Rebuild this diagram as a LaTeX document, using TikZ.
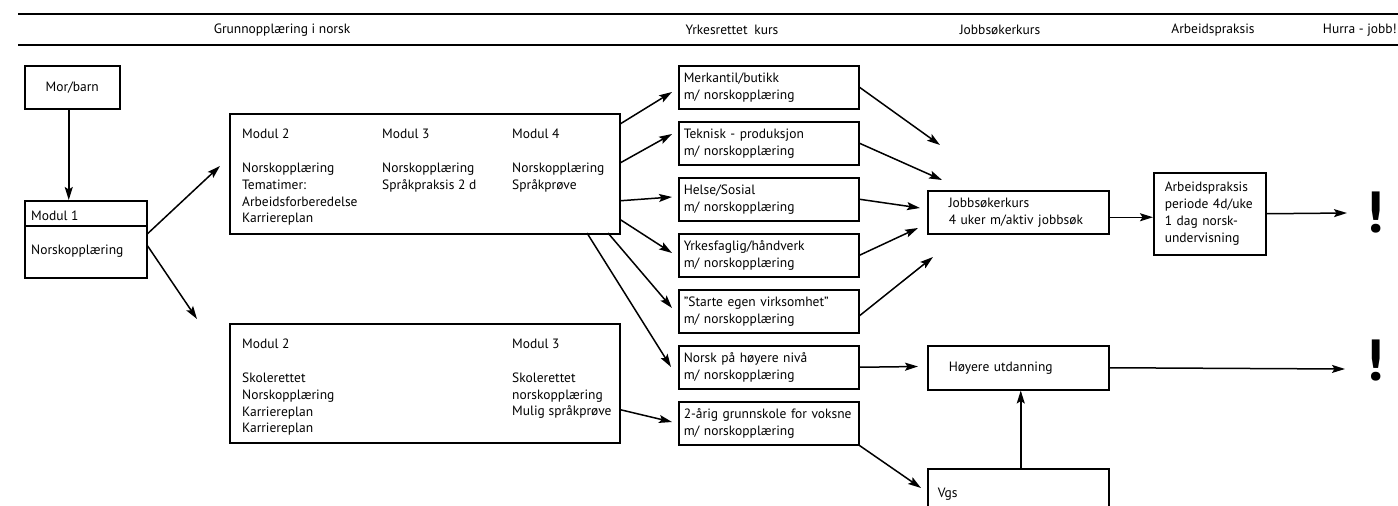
\documentclass[tikz,border=0pt]{standalone}
\usepackage{fontspec}
\setmainfont{PT Sans}
\usetikzlibrary{arrows.meta}
\begin{document}
\begin{tikzpicture}[x=1pt,y=-1pt,
  box/.style={draw, line width=1.5pt, inner sep=0pt, anchor=north west, font=\fontsize{13.5}{17}\selectfont},
  rbox/.style={box, minimum width=180, minimum height=43, text width=170, align=left},
  txt/.style={inner sep=0pt, anchor=north west, align=left, font=\fontsize{13.5}{16.8}\selectfont},
  head/.style={inner sep=0pt, font=\fontsize{13.5}{15}\selectfont},
  arr/.style={line width=1.5pt, -{Stealth[length=13pt,width=8pt,inset=2.5pt]}},
  bang/.style={inner sep=0pt, font=\fontsize{58}{60}\selectfont\bfseries}]
\useasboundingbox (0,0) rectangle (1398,506);
\clip (0,0) rectangle (1398,506);
% header
\coordinate (hl1) at (18,14); \coordinate (hr1) at (1398,14);
\coordinate (hl2) at (18,45); \coordinate (hr2) at (1398,45);
\draw[line width=1.8pt] (hl1) -- (hr1);
\draw[line width=1.8pt] (hl2) -- (hr2);
\node[head] (h1) at (282,30) {Grunnopplæring i norsk};
\node[head] (h2) at (732,30) {Yrkesrettet\enspace kurs};
\node[head] (h3) at (1000,30) {Jobbsøkerkurs};
\node[head] (h4) at (1213,30) {Arbeidspraksis};
\node[head, anchor=east] (h5) at (1397,30) {Hurra - jobb!};
% left
\node[box, minimum width=95, minimum height=43] (mor) at (24,65) {Mor/barn};
\node[box, minimum width=122, minimum height=77] (m1) at (24,200) {};
\draw[line width=1.5pt] ([yshift=-26pt]m1.north west) -- ([yshift=-26pt]m1.north east);
\node[txt] (m1a) at (31,211) {Modul 1};
\node[txt] (m1b) at (31,245) {Norskopplæring};
% big box A
\node[box, minimum width=390, minimum height=120] (A) at (229,113) {};
\node[txt] (A1) at (242,129) {Modul 2\\[16.8pt]Norskopplæring\\Tematimer:\\Arbeidsforberedelse\\Karriereplan};
\node[txt] (A2) at (382,129) {Modul 3\\[16.8pt]Norskopplæring\\Språkpraksis 2 d};
\node[txt] (A3) at (512,129) {Modul 4\\[16.8pt]Norskopplæring\\Språkprøve};
% big box B
\node[box, minimum width=390, minimum height=119] (B) at (229,323) {};
\node[txt] (B1) at (242,339) {Modul 2\\[16.8pt]Skolerettet\\Norskopplæring\\Karriereplan\\Karriereplan};
\node[txt] (B2) at (512,339) {Modul 3\\[16.8pt]Skolerettet\\norskopplæring\\Mulig språkprøve};
% right column
\node[rbox] (merk) at (678,65) {Merkantil/butikk\\m/ norskopplæring};
\node[rbox] (tek) at (678,121) {Teknisk - produksjon\\m/ norskopplæring};
\node[rbox] (hel) at (678,177) {Helse/Sosial\\m/ norskopplæring};
\node[rbox] (yrk) at (678,233) {Yrkesfaglig/håndverk\\m/ norskopplæring};
\node[rbox] (sta) at (678,289) {"Starte egen virksomhet"\\m/ norskopplæring};
\node[rbox] (nor) at (678,345) {Norsk på høyere nivå\\m/ norskopplæring};
\node[rbox] (gru) at (678,401) {2-årig grunnskole for voksne\\m/ norskopplæring};
% further right
\node[box, minimum width=181, minimum height=43, text width=139, align=left] (job) at (927,190) {Jobbsøkerkurs\\4 uker m/aktiv jobbsøk};
\node[box, minimum width=112, minimum height=82, text width=90, align=left] (arb) at (1153,172) {Arbeidspraksis\\periode 4d/uke\\1 dag norsk-\\undervisning};
\node[box, minimum width=181, minimum height=44, text width=139, align=left] (hoy) at (927,345) {Høyere utdanning};
\node[box, minimum width=181, minimum height=50, text width=161, align=left] (vgs) at (927,468) {Vgs};
\node[bang] (b1) at (1375,213) {!};
\node[bang] (b2) at (1375,361) {!};
% arrow tips
\coordinate (t1) at (220,166);
\coordinate (t2) at (197,319);
\coordinate (tm) at (672,92);
\coordinate (tt) at (672,134);
\coordinate (th) at (672,197);
\coordinate (ty) at (672,253);
\coordinate (ts) at (672,308);
\coordinate (tn) at (671,367);
\coordinate (tg) at (672,422);
\coordinate (tv) at (921,488);
\coordinate (j1) at (940,145);
\coordinate (j2) at (942,180);
\coordinate (j3) at (920,208);
\coordinate (j4) at (918,228);
\coordinate (j5) at (933,257);
\coordinate (th2) at (918,366.5);
\coordinate (e1) at (1347,213);
\coordinate (e2) at (1345,369);
\coordinate (as) at (587,233);
\coordinate (bs) at (608,233);
% arrows
\draw[arr] ([xshift=-3.5pt]mor.south) -- ([xshift=-3.5pt]mor.south |- m1.north);
\draw[arr] ([yshift=5.5pt]m1.east) -- (t1);
\draw[arr] ([yshift=-6.5pt]m1.east) -- (t2);
\draw[arr] ([yshift=50pt]A.east) -- (tm);
\draw[arr] ([yshift=11pt]A.east) -- (tt);
\draw[arr] ([yshift=-27pt]A.east) -- (th);
\draw[arr] ([yshift=-46pt]A.east) -- (ty);
\draw[arr] (bs) -- (ts);
\draw[arr] (as) -- (tn);
\draw[arr] ([yshift=-26.5pt]B.east) -- (tg);
\draw[arr] (gru.south east) -- (tv);
\draw[arr] (merk.east) -- (j1);
\draw[arr] (tek.east) -- (j2);
\draw[arr] (hel.east) -- (j3);
\draw[arr] (yrk.east) -- (j4);
\draw[arr] ([yshift=-4.5pt]sta.east) -- (j5);
\draw[arr] (nor.east) -- (th2);
\draw[arr] ([yshift=-5pt]job.east) -- ([yshift=-5pt]job.east -| arb.west);
\draw[arr] (arb.east) -- (e1);
\draw[arr] (hoy.east) -- (e2);
\draw[arr] ([xshift=2.5pt]vgs.north) -- ([xshift=2.5pt]vgs.north |- hoy.south);
\end{tikzpicture}
\end{document}
